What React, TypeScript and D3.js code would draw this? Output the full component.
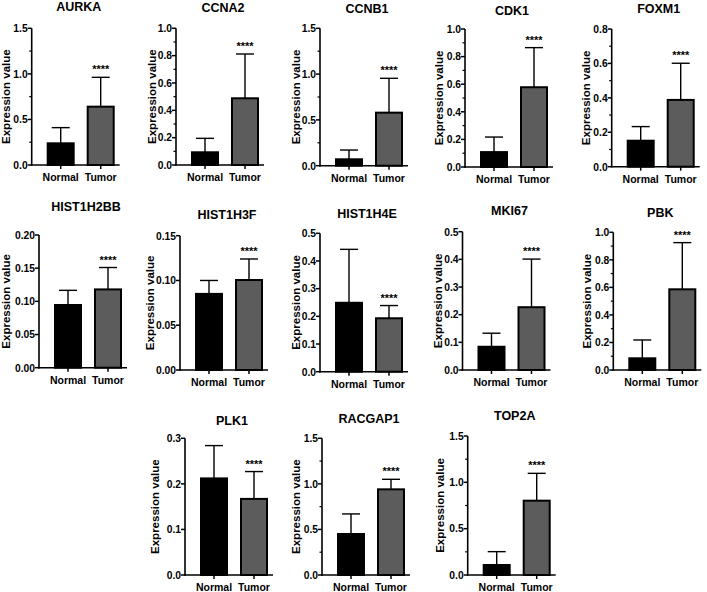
import React from "react";
import * as d3 from "d3";

const genes = ["AURKA", "CCNA2", "CCNB1", "CDK1", "FOXM1", "HIST1H2BB", "HIST1H3F", "HIST1H4E", "MKI67", "PBK", "PLK1", "RACGAP1", "TOP2A"];
const groups = ["Normal", "Tumor"];
const normalMean = [0.238, 0.093, 0.07, 0.108, 0.151, 0.0945, 0.085, 0.249, 0.084, 0.085, 0.212, 0.45, 0.108];
const normalSD = [0.172, 0.102, 0.101, 0.109, 0.082, 0.0221, 0.015, 0.193, 0.049, 0.133, 0.072, 0.22, 0.144];
const tumorMean = [0.64, 0.488, 0.579, 0.578, 0.388, 0.118, 0.1005, 0.193, 0.227, 0.586, 0.167, 0.94, 0.802];
const tumorSD = [0.322, 0.324, 0.375, 0.287, 0.213, 0.033, 0.0235, 0.046, 0.174, 0.339, 0.06, 0.11, 0.295];
const yMax = [1.5, 1.0, 1.5, 1.0, 0.8, 0.2, 0.15, 0.5, 0.5, 1.0, 0.3, 1.5, 1.5];
const yStep = [0.5, 0.2, 0.5, 0.2, 0.2, 0.05, 0.05, 0.1, 0.1, 0.2, 0.1, 0.5, 0.5];
const hasMinor = [true, true, true, true, true, false, false, false, false, true, false, true, true];
const decimals = [1, 1, 1, 1, 1, 2, 2, 1, 1, 1, 1, 1, 1];
const sigLabel = "****";
const yTitle = "Expression value";

// layout: axis x, y of zero, y of top, title baseline, y-label offset
const layout = [
  { ax: 31.7, y0: 165, yt: 28.3, ty: 11, yl: 22 },
  { ax: 176, y0: 165, yt: 28.3, ty: 12, yl: 20 },
  { ax: 320, y0: 165.7, yt: 28.3, ty: 13, yl: 20 },
  { ax: 465, y0: 167, yt: 29, ty: 15, yl: 22 },
  { ax: 611.7, y0: 166.7, yt: 29, ty: 13, yl: 22 },
  { ax: 39, y0: 367.7, yt: 235, ty: 211, yl: 29 },
  { ax: 180, y0: 370, yt: 235.7, ty: 219, yl: 26 },
  { ax: 320, y0: 371.7, yt: 233.3, ty: 218, yl: 20 },
  { ax: 462.5, y0: 370, yt: 231.7, ty: 215, yl: 20.5 },
  { ax: 613.3, y0: 370, yt: 232.3, ty: 217, yl: 22 },
  { ax: 185, y0: 575, yt: 438.3, ty: 425, yl: 26 },
  { ax: 322, y0: 575, yt: 438.3, ty: 423, yl: 22 },
  { ax: 467.7, y0: 575, yt: 436, ty: 420, yl: 24 },
];

const FONT = "'Liberation Sans', Arial, sans-serif";
const TUMOR_FILL = "#5c5c5c";

function Panel({ i }: { i: number }) {
  const L = layout[i];
  const y = d3.scaleLinear().domain([0, yMax[i]]).range([L.y0, L.yt]);
  const x = d3.scaleBand().domain(groups).range([L.ax + 3, L.ax + 95]).paddingInner(0.35).paddingOuter(0.325);
  const nMaj = Math.round(yMax[i] / yStep[i]);
  const major = d3.range(nMaj + 1).map((k) => k * yStep[i]);
  const minor = hasMinor[i] ? d3.range(nMaj).map((k) => (k + 0.5) * yStep[i]) : [];
  const means = [normalMean[i], tumorMean[i]];
  const sds = [normalSD[i], tumorSD[i]];
  const bw = x.bandwidth();
  const xEnd = L.ax + 88;
  const midY = (L.y0 + L.yt) / 2;
  return (
    <g fontFamily={FONT} fontWeight="bold">
      <text x={L.ax + 47} y={L.ty} textAnchor="middle" fontSize={12.5}>{genes[i]}</text>
      <text transform={`translate(${L.ax - L.yl},${midY}) rotate(-90)`} textAnchor="middle" fontSize={11.5}>{yTitle}</text>
      {groups.map((g, k) => {
        const top = y(means[k] + sds[k]);
        const cx = (x(g) as number) + bw / 2;
        return (
          <g key={g}>
            <line x1={cx} x2={cx} y1={y(means[k])} y2={top} stroke="#000" strokeWidth={1.4} />
            <line x1={cx - 9} x2={cx + 9} y1={top} y2={top} stroke="#000" strokeWidth={1.4} />
            <rect x={x(g)} y={y(means[k])} width={bw} height={L.y0 - y(means[k])} fill={k === 0 ? "#000" : TUMOR_FILL} stroke="#000" strokeWidth={2} />
            {k === 1 && (
              <text x={cx} y={top - 4} textAnchor="middle" fontSize={11}>{sigLabel}</text>
            )}
            <line x1={cx} x2={cx} y1={L.y0} y2={L.y0 + 4} stroke="#000" strokeWidth={1.5} />
            <text x={cx} y={L.y0 + 16} textAnchor="middle" fontSize={10.5}>{g}</text>
          </g>
        );
      })}
      {major.map((v) => (
        <g key={"M" + v}>
          <line x1={L.ax - 4} x2={L.ax} y1={y(v)} y2={y(v)} stroke="#000" strokeWidth={1.5} />
          <text x={L.ax - 4} y={y(v) + 3.8} textAnchor="end" fontSize={10.3}>{v.toFixed(decimals[i])}</text>
        </g>
      ))}
      {minor.map((v) => (
        <line key={"m" + v} x1={L.ax - 2.5} x2={L.ax} y1={y(v)} y2={y(v)} stroke="#000" strokeWidth={1.2} />
      ))}
      <line x1={L.ax} x2={L.ax} y1={L.y0 + 0.75} y2={L.yt} stroke="#000" strokeWidth={1.6} />
      <line x1={L.ax - 0.8} x2={xEnd} y1={L.y0} y2={L.y0} stroke="#000" strokeWidth={1.6} />
    </g>
  );
}

export default function App() {
  return (
    <svg width={707} height={592} style={{ position: "absolute", left: 0, top: 0, background: "#fff" }}>
      <rect width={707} height={592} fill="#fff" />
      {genes.map((g, i) => (
        <Panel key={g} i={i} />
      ))}
    </svg>
  );
}
